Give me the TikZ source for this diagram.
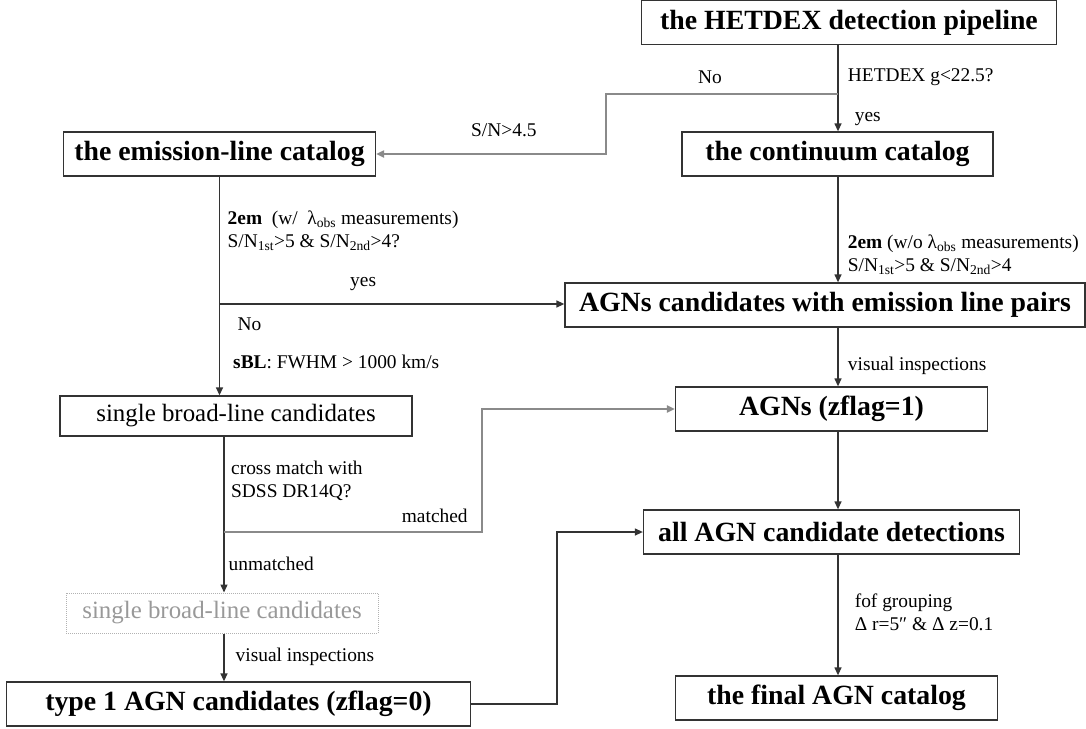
\documentclass[tikz,border=0pt]{standalone}
\usepackage{fontspec}
\setmainfont{Liberation Serif}
\usepackage{tikz}
\usetikzlibrary{arrows.meta,positioning,calc}
\definecolor{fline}{HTML}{333333}
\definecolor{fgrey}{HTML}{8A8A8A}
\newcommand{\bigbold}{\fontsize{27.8}{32}\selectfont\bfseries}
\newcommand{\midtext}{\fontsize{24.9}{29}\selectfont}
\newcommand{\lbltext}{\fontsize{19.4}{23}\selectfont}
\tikzset{
  block/.style   = {draw=fline, line width=1.3pt, rectangle, minimum height=44pt,
                    inner sep=0pt, align=center, font=\bigbold},
  plainblock/.style = {draw=fline, line width=1.3pt, rectangle, minimum height=40pt,
                    inner sep=0pt, align=center, font=\midtext},
  ghostblock/.style = {draw=black!30, densely dotted, line width=1pt, rectangle,
                    minimum height=40pt, inner sep=0pt, align=center,
                    font=\midtext, text=black!40},
  lbl/.style     = {anchor=west, inner sep=0pt, align=left, font=\lbltext},
  sig/.style     = {-{Triangle[length=8pt,width=7pt]}, line width=1.3pt, fline},
  greysig/.style = {-{Triangle[length=8pt,width=7pt]}, line width=2pt, fgrey},
}
\begin{document}
\begin{tikzpicture}[x=1pt,y=-1pt]
\useasboundingbox (0,0) rectangle (1086,728);
\node[block, minimum width=415pt] (pipe) at (849,22.5) {the HETDEX detection pipeline};
\node[block, minimum width=311pt] (cont) at (837.5,154) {the continuum catalog};
\node[block, minimum width=312pt] (emis) at (219.5,154) {the emission-line catalog};
\node[block, minimum width=520pt] (cand) at (825,305) {AGNs candidates with emission line pairs};
\node[plainblock, minimum width=352pt] (sbl) at (236,416) {single broad-line candidates};
\node[block, minimum width=312pt] (zf1) at (831.5,409) {AGNs (zflag=1)};
\node[block, minimum width=376pt] (all) at (831.5,532) {all AGN candidate detections};
\node[ghostblock, minimum width=312pt] (ghost) at (222,613) {single broad-line candidates};
\node[block, minimum width=464pt] (type1) at (238.5,704) {type 1 AGN candidates (zflag=0)};
\node[block, minimum width=322pt] (final) at (836.5,698) {the final AGN catalog};
\coordinate (nosplit) at (838,94);
\coordinate (nobend) at (605.7,154);
\coordinate (yessplit) at (219.5,304);
\coordinate (matchsplit) at (224,532);
\coordinate (matchbend) at (482,532);
\coordinate (t1bend) at (557,704);
\draw[sig] (pipe.south -| nosplit) -- (cont.north -| nosplit);
\draw[greysig] (nosplit) -| (nobend) -- (emis.east);
\draw[sig] (cont.south -| nosplit) -- (cand.north -| nosplit);
\draw[sig] (emis.south) -- (emis.south |- sbl.north);
\draw[sig] (yessplit) -- (cand.west |- yessplit);
\draw[sig] (cand.south -| nosplit) -- (zf1.north -| nosplit);
\draw[sig] (zf1.south -| nosplit) -- (all.north -| nosplit);
\draw[sig] (all.south -| nosplit) -- (final.north -| nosplit);
\draw[sig] (sbl.south -| matchsplit) -- (ghost.north -| matchsplit);
\draw[greysig] (matchsplit) -- (matchbend) |- (zf1.west);
\draw[sig] (ghost.south -| matchsplit) -- (type1.north -| matchsplit);
\draw[sig] (type1.east) -- (t1bend) |- (all.west);
\node[lbl] (lno) at (698,77) {No};
\node[lbl] (lgcut) at (847.7,77) {HETDEX g<22.5?};
\node[lbl] (lyes) at (854.6,119) {yes};
\node[lbl] (lsn) at (471,130) {S/N>4.5};
\node[lbl] (lcont) at (847.7,255) {\textbf{2em} (w/o λ\textsubscript{obs} measurements)\\
  S/N\textsubscript{1st}>5 \& S/N\textsubscript{2nd}>4};
\node[lbl] (lemis) at (227.5,231) {\textbf{2em}\ \ (w/\ \ λ\textsubscript{obs} measurements)\\
  S/N\textsubscript{1st}>5 \& S/N\textsubscript{2nd}>4?};
\node[lbl] (lyes2) at (350,284) {yes};
\node[lbl] (lno2) at (237.5,324) {No};
\node[lbl] (lsbl) at (233,362) {\textbf{sBL}: FWHM > 1000 km/s};
\node[lbl] (lvis) at (847.7,366) {visual inspections};
\node[lbl] (lcross) at (231,480.5) {cross match with\\SDSS DR14Q?};
\node[lbl] (lmatch) at (401.7,516) {matched};
\node[lbl] (lunm) at (228.5,564) {unmatched};
\node[lbl] (lvis2) at (235.5,657) {visual inspections};
\node[lbl] (lfof) at (854.6,612.5) {fof grouping\\ Δ r=5″ \& Δ z=0.1};
\end{tikzpicture}
\end{document}
